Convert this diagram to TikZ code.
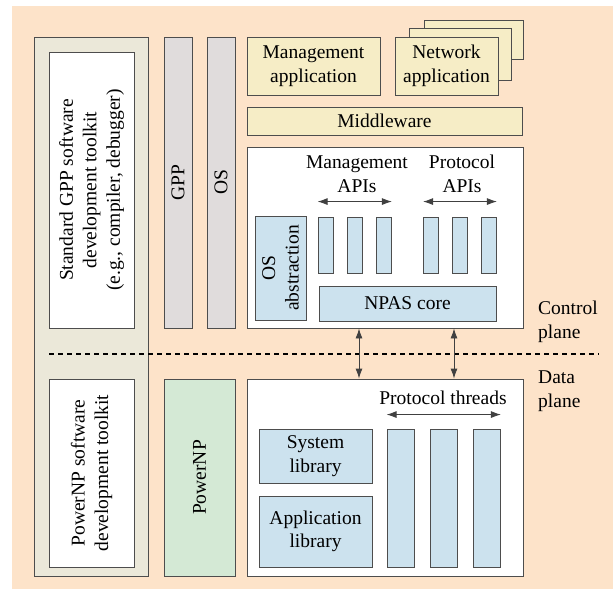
\documentclass[tikz,border=0pt]{standalone}
\usepackage{fontspec}
\setmainfont{Liberation Serif}
\usetikzlibrary{arrows.meta}

\definecolor{peach}{HTML}{FDE3C9}
\definecolor{kitbeige}{HTML}{EBE8D9}
\definecolor{hwgray}{HTML}{E0DCDC}
\definecolor{appyellow}{HTML}{F6EDC6}
\definecolor{apiblue}{HTML}{CCE2EE}
\definecolor{npgreen}{HTML}{D4E9D5}
\definecolor{edgegray}{HTML}{4D4D4D}

\tikzset{
  blk/.style={draw=edgegray, line width=0.9pt, inner sep=0pt, align=center,
    font=\fontsize{19.5}{23.5}\selectfont},
  lbl/.style={inner sep=0pt, align=center, font=\fontsize{19.5}{23.5}\selectfont},
  span/.style={draw=black!75, line width=0.9pt, {Latex[length=10pt,width=7pt]}-{Latex[length=10pt,width=7pt]}}
}

\begin{document}
\begin{tikzpicture}[x=1pt,y=-1pt]
\useasboundingbox (0,0) rectangle (613,590);
\fill [peach] (12,6) rectangle (613,589);

% left column: toolkits
\node [blk, fill=kitbeige, minimum width=114, minimum height=539] (sdk) at (91,306.5) {};
\node [blk, fill=white, rotate=90, minimum width=276, minimum height=85] (gppkit) at (91.5,190)
  {Standard GPP software\\development toolkit\\(e.g., compiler, debugger)};
\node [blk, fill=white, rotate=90, minimum width=188, minimum height=85] (npkit) at (91.5,473)
  {PowerNP software\\development toolkit};

% hardware / OS bars
\node [blk, fill=hwgray, rotate=90, minimum width=291, minimum height=28] (gpp) at (178,182.5) {GPP};
\node [blk, fill=hwgray, rotate=90, minimum width=291, minimum height=28] (os) at (221,182.5) {OS};
\node [blk, fill=npgreen, rotate=90, minimum width=197, minimum height=71] (powernp) at (199.5,477.5) {PowerNP};

% applications
\node [blk, fill=appyellow, minimum width=133, minimum height=58] (mgmtapp) at (313.5,66) {Management\\application};
\draw [blk, fill=appyellow] (424,20) rectangle (523,59);
\draw [blk, fill=appyellow] (409,28) rectangle (511,80);
\node [blk, fill=appyellow, minimum width=103, minimum height=58] (netapp) at (446.5,66) {Network\\application};
\node [blk, fill=appyellow, minimum width=275, minimum height=28] (mw) at (384.5,121) {Middleware};

% control plane: NPAS
\node [blk, fill=white, minimum width=276, minimum height=181] (npas) at (385,237.5) {};
\node [blk, fill=apiblue, rotate=90, minimum width=104, minimum height=51] (osabs) at (280.5,268) {OS\\abstraction};
\foreach \x [count=\i] in {325.5,355,384}
  \node [blk, fill=apiblue, minimum width=15, minimum height=56] (mb\i) at (\x,245) {};
\foreach \x [count=\i] in {431,460,489}
  \node [blk, fill=apiblue, minimum width=15, minimum height=56] (pb\i) at (\x,245) {};
\node [blk, fill=apiblue, minimum width=177, minimum height=35] (core) at (407.5,303.5) {NPAS core};
\node [lbl] (mapis) at (357,174) {Management\\APIs};
\node [lbl] (papis) at (462,174) {Protocol\\APIs};
\draw [span] ([yshift=15]mb1.north west) -- ([yshift=15]mb3.north east);
\draw [span] ([yshift=15]pb1.north west) -- ([yshift=15]pb3.north east);

% data plane
\node [blk, fill=white, minimum width=276, minimum height=197] (dp) at (385,477.5) {};
\node [blk, fill=apiblue, minimum width=113, minimum height=54] (syslib) at (315.5,456) {System\\library};
\node [blk, fill=apiblue, minimum width=113, minimum height=71] (applib) at (315.5,531.5) {Application\\library};
\foreach \x [count=\i] in {400.5,444,487}
  \node [blk, fill=apiblue, minimum width=27, minimum height=138] (th\i) at (\x,498) {};
\node [lbl] (threads) at (443,398) {Protocol threads};
\draw [span] ([yshift=14]th1.north west) -- ([yshift=14]th3.north east);

% plane split
\draw [line width=1.6pt, dash pattern=on 5pt off 4pt] (49,354) -- (599,354);
\node [lbl, align=left, anchor=west] (cplane) at (538,322) {Control\\plane};
\node [lbl, align=left, anchor=west] (dplane) at (538,391) {Data\\plane};

\coordinate (ca) at (359,0);
\coordinate (cb) at (454,0);
\draw [span] (ca |- npas.south) -- (ca |- dp.north);
\draw [span] (cb |- npas.south) -- (cb |- dp.north);

\end{tikzpicture}
\end{document}
